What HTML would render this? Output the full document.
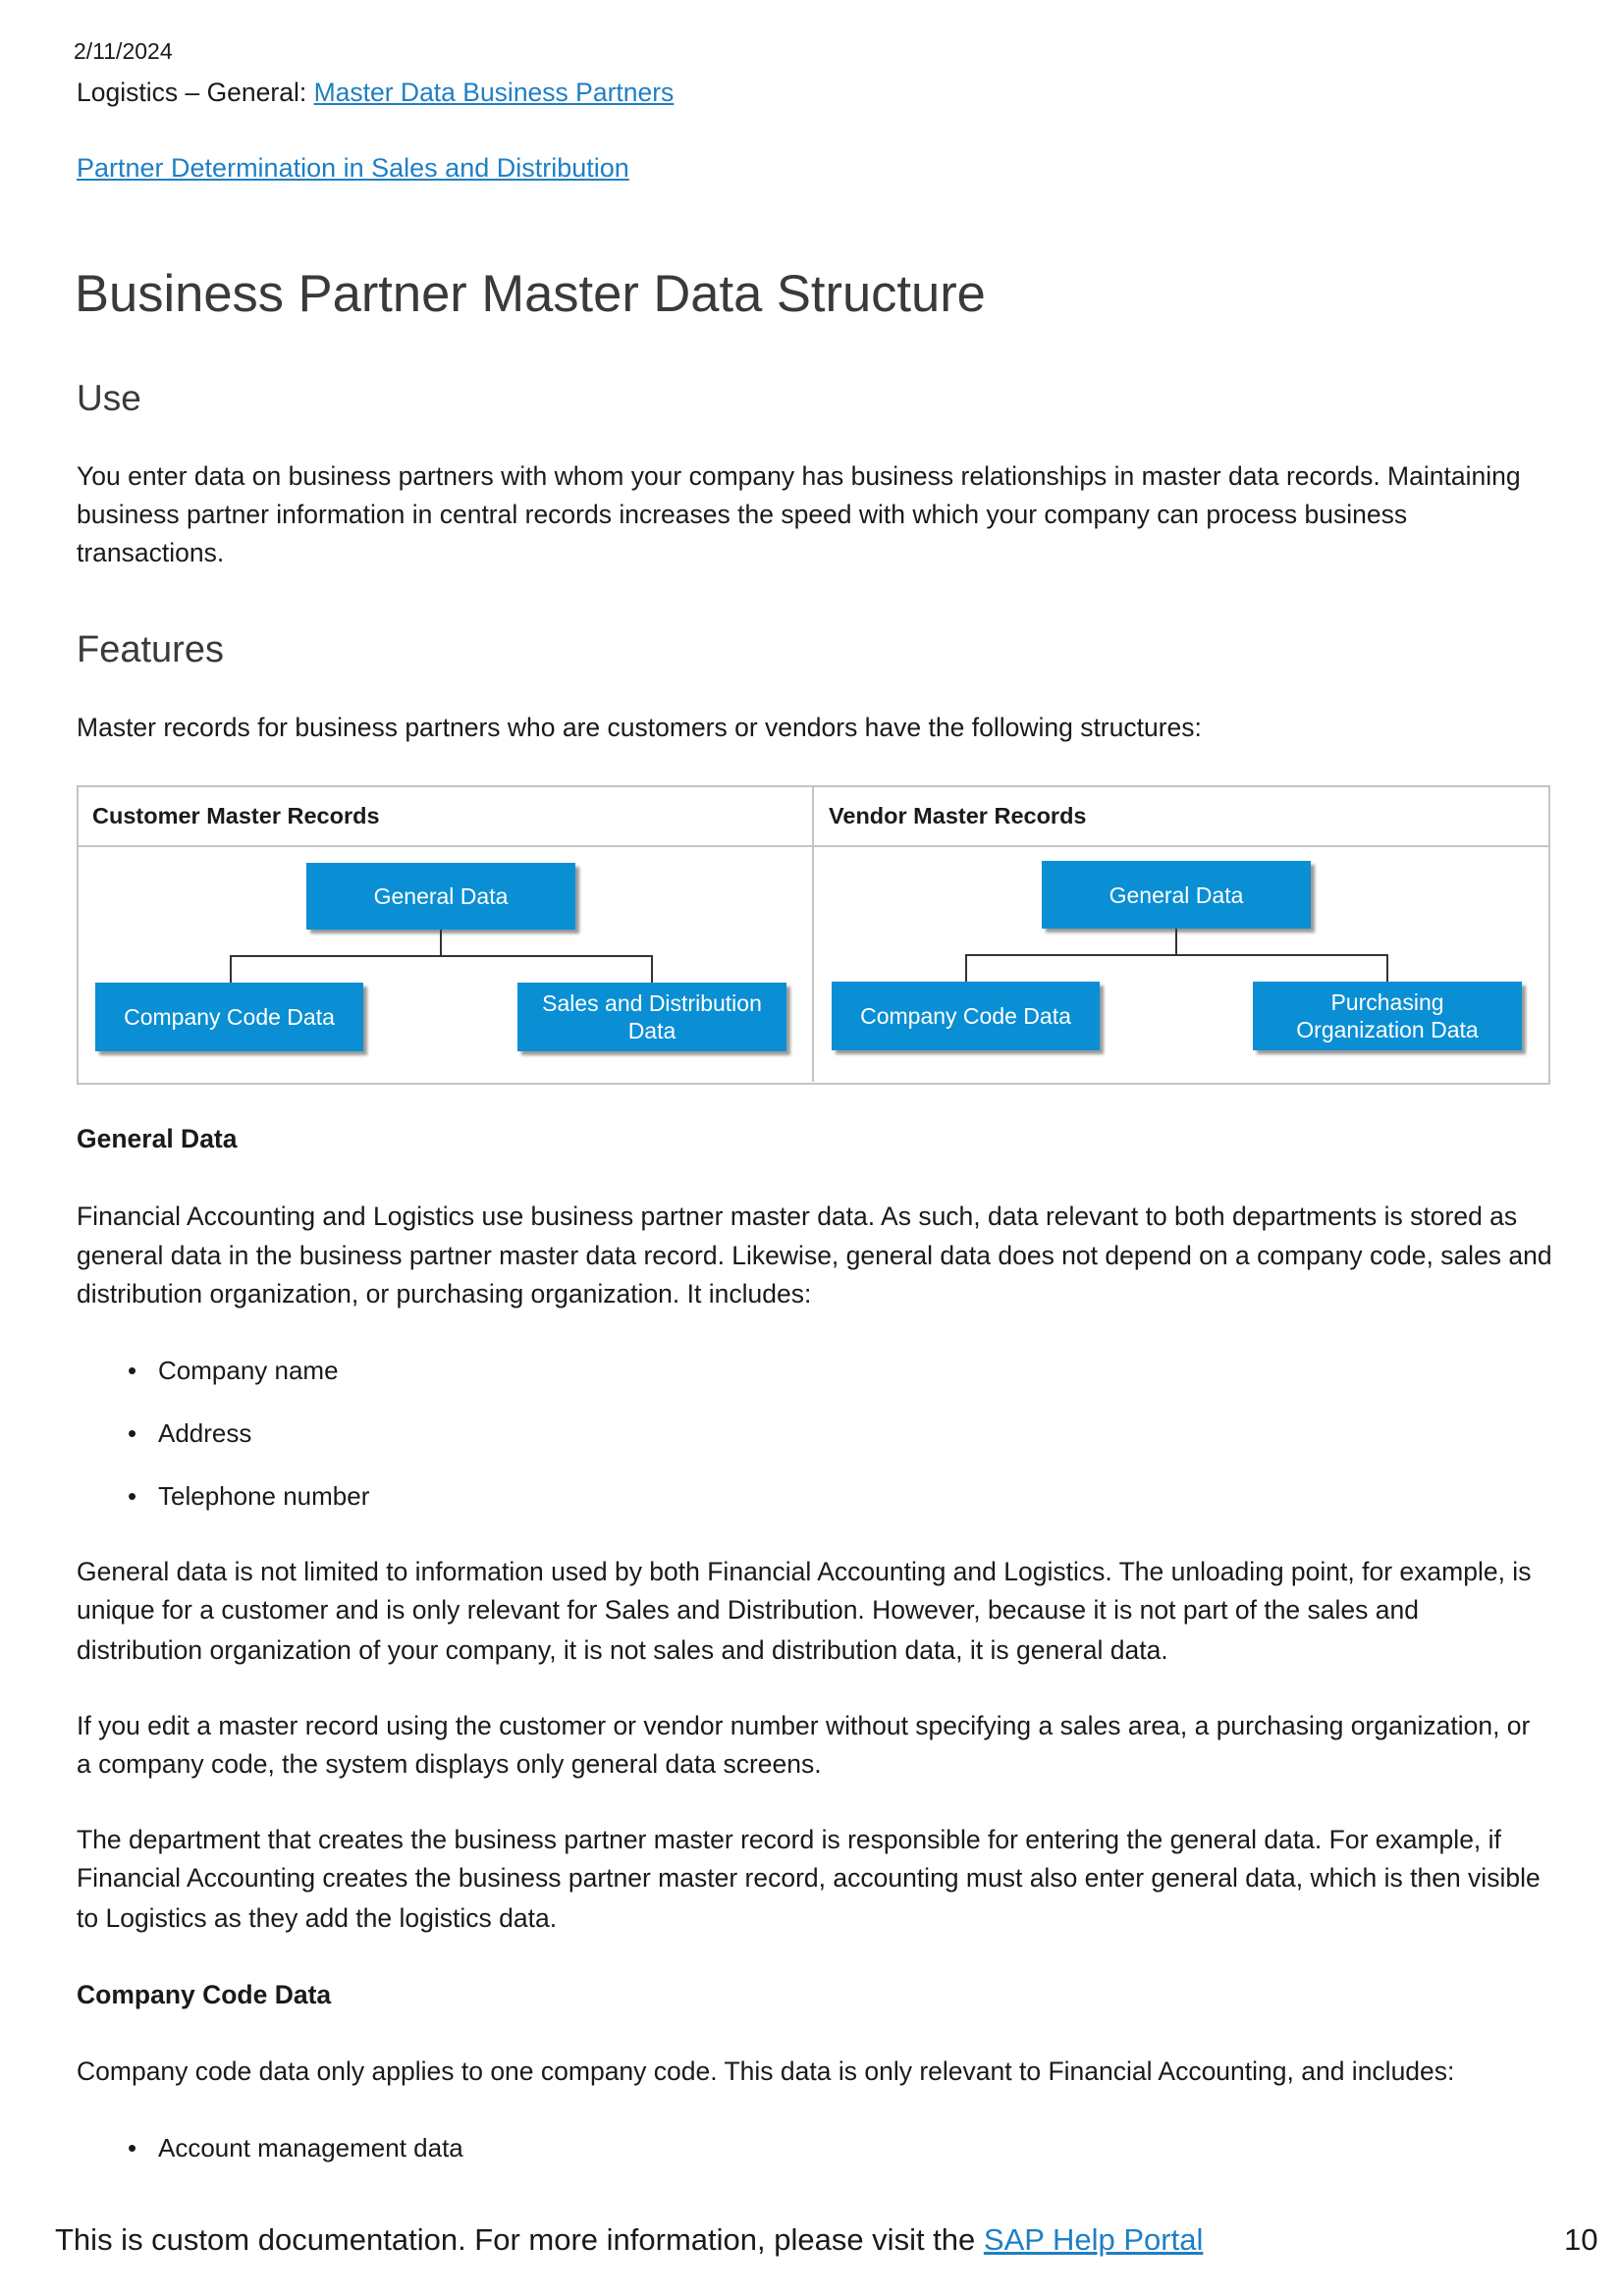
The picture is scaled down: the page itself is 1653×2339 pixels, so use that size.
<!DOCTYPE html>
<html><head><meta charset="utf-8"><style>
body{margin:0;width:1653px;height:2339px;position:relative;background:#fff;font-family:"Liberation Sans",sans-serif;color:#1a1a1a;overflow:hidden}
.t{position:absolute;white-space:nowrap;line-height:1}
.p{font-size:26.5px;left:78px}
a{color:#1f7fc4;text-decoration:underline}
.h{color:#3a3a3a}
.box{position:absolute;background:#0a8fd4;color:#fff;font-size:23px;display:flex;align-items:center;justify-content:center;text-align:center;line-height:28px;box-shadow:4px 4px 3px #9a9a9a}
.ln{position:absolute;background:#333}
.b{font-size:26px;position:absolute;left:130px}
.b span{position:absolute;left:31px}
</style></head><body>
<div class="t" style="left:75px;top:41px;font-size:23px">2/11/2024</div>
<div class="t" style="left:78px;top:81px;font-size:26.5px">Logistics – General: <a>Master Data Business Partners</a></div>
<div class="t" style="left:78px;top:158px;font-size:27px"><a>Partner Determination in Sales and Distribution</a></div>
<div class="t h" style="left:76px;top:274px;font-size:52.5px">Business Partner Master Data Structure</div>
<div class="t h" style="left:78px;top:387px;font-size:37px">Use</div>
<div class="t p" style="top:472px">You enter data on business partners with whom your company has business relationships in master data records. Maintaining</div>
<div class="t p" style="top:511px">business partner information in central records increases the speed with which your company can process business</div>
<div class="t p" style="top:550px">transactions.</div>
<div class="t h" style="left:78px;top:643px;font-size:38px">Features</div>
<div class="t p" style="top:728px">Master records for business partners who are customers or vendors have the following structures:</div>

<div style="position:absolute;left:78px;top:800px;width:1497px;height:301px;border:2px solid #c4c4c4"></div>
<div style="position:absolute;left:80px;top:861px;width:1497px;height:2px;background:#c4c4c4"></div>
<div style="position:absolute;left:827px;top:802px;width:2px;height:300px;background:#c4c4c4"></div>
<div class="t" style="left:94px;top:820px;font-size:23.5px;font-weight:bold">Customer Master Records</div>
<div class="t" style="left:844px;top:820px;font-size:23.5px;font-weight:bold">Vendor Master Records</div>

<div class="box" style="left:312px;top:879px;width:274px;height:68px">General Data</div>
<div class="box" style="left:97px;top:1001px;width:273px;height:70px">Company Code Data</div>
<div class="box" style="left:527px;top:1001px;width:274px;height:70px">Sales and Distribution<br>Data</div>
<div class="ln" style="left:448px;top:947px;width:2px;height:28px"></div>
<div class="ln" style="left:234px;top:973px;width:431px;height:2px"></div>
<div class="ln" style="left:234px;top:973px;width:2px;height:28px"></div>
<div class="ln" style="left:663px;top:973px;width:2px;height:28px"></div>

<div class="box" style="left:1061px;top:877px;width:274px;height:69px">General Data</div>
<div class="box" style="left:847px;top:1000px;width:273px;height:70px">Company Code Data</div>
<div class="box" style="left:1276px;top:1000px;width:274px;height:70px">Purchasing<br>Organization Data</div>
<div class="ln" style="left:1197px;top:946px;width:2px;height:28px"></div>
<div class="ln" style="left:983px;top:972px;width:431px;height:2px"></div>
<div class="ln" style="left:983px;top:972px;width:2px;height:28px"></div>
<div class="ln" style="left:1412px;top:972px;width:2px;height:28px"></div>

<div class="t" style="left:78px;top:1147px;font-size:26.5px;font-weight:bold">General Data</div>
<div class="t p" style="top:1226px">Financial Accounting and Logistics use business partner master data. As such, data relevant to both departments is stored as</div>
<div class="t p" style="top:1266px">general data in the business partner master data record. Likewise, general data does not depend on a company code, sales and</div>
<div class="t p" style="top:1305px">distribution organization, or purchasing organization. It includes:</div>
<div class="t b" style="top:1383px">•<span>Company name</span></div>
<div class="t b" style="top:1447px">•<span>Address</span></div>
<div class="t b" style="top:1511px">•<span>Telephone number</span></div>
<div class="t p" style="top:1588px">General data is not limited to information used by both Financial Accounting and Logistics. The unloading point, for example, is</div>
<div class="t p" style="top:1627px">unique for a customer and is only relevant for Sales and Distribution. However, because it is not part of the sales and</div>
<div class="t p" style="top:1668px">distribution organization of your company, it is not sales and distribution data, it is general data.</div>
<div class="t p" style="top:1745px">If you edit a master record using the customer or vendor number without specifying a sales area, a purchasing organization, or</div>
<div class="t p" style="top:1784px">a company code, the system displays only general data screens.</div>
<div class="t p" style="top:1861px">The department that creates the business partner master record is responsible for entering the general data. For example, if</div>
<div class="t p" style="top:1900px">Financial Accounting creates the business partner master record, accounting must also enter general data, which is then visible</div>
<div class="t p" style="top:1941px">to Logistics as they add the logistics data.</div>
<div class="t" style="left:78px;top:2019px;font-size:26.5px;font-weight:bold">Company Code Data</div>
<div class="t p" style="top:2097px">Company code data only applies to one company code. This data is only relevant to Financial Accounting, and includes:</div>
<div class="t b" style="top:2175px">•<span>Account management data</span></div>
<div class="t" style="left:56px;top:2266px;font-size:31px">This is custom documentation. For more information, please visit the <a>SAP Help Portal</a></div>
<div class="t" style="left:1593px;top:2266px;font-size:31px">10</div>
</body></html>
